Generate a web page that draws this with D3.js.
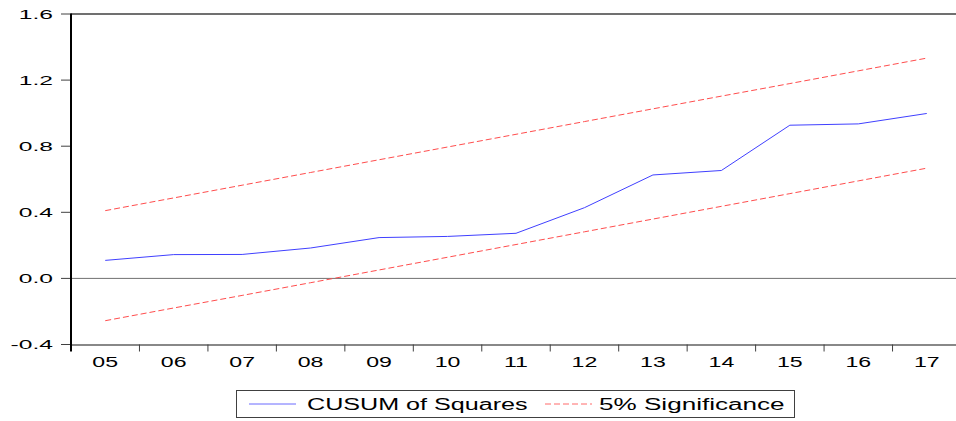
<!DOCTYPE html>
<html>
<head>
<meta charset="utf-8">
<script src="https://cdn.jsdelivr.net/npm/d3@7/dist/d3.min.js"></script>
<style>
  body { margin: 0; background: #fff; }
  svg { display: block; font-family: "Liberation Sans", Arial, sans-serif; }
</style>
</head>
<body>
<svg width="956" height="421"></svg>
<script>
var years = ["05", "06", "07", "08", "09", "10", "11", "12", "13", "14", "15", "16", "17"];
var cusumSq = [0.109, 0.144, 0.145, 0.184, 0.247, 0.254, 0.273, 0.428, 0.626, 0.653, 0.927, 0.935, 0.998];
var upper = [0.410, 0.487, 0.564, 0.641, 0.718, 0.795, 0.872, 0.949, 1.026, 1.103, 1.179, 1.256, 1.333];
var lower = [-0.256, -0.179, -0.103, -0.026, 0.051, 0.128, 0.205, 0.282, 0.359, 0.436, 0.513, 0.590, 0.667];
var yTicks = [-0.4, 0.0, 0.4, 0.8, 1.2, 1.6];

var svg = d3.select("svg");

var pLeft = 71, pRight = 961, pTop = 14, pBottom = 344.5;

var x = d3.scaleBand().domain(years).range([pLeft, pRight]);
var y = d3.scaleLinear().domain([-0.4, 1.6]).range([pBottom, pTop]);

// stretch text horizontally like the original
function stretch(sel, k) {
  sel.each(function() {
    var w = this.getComputedTextLength();
    d3.select(this).attr("textLength", w * k).attr("lengthAdjust", "spacingAndGlyphs");
  });
}

// frame
svg.append("line")
  .attr("x1", pLeft).attr("x2", 956).attr("y1", pTop).attr("y2", pTop)
  .attr("stroke", "#404040").attr("stroke-width", 1.5);
svg.append("line")
  .attr("x1", pLeft).attr("x2", 956).attr("y1", y(0)).attr("y2", y(0))
  .attr("stroke", "#707070").attr("stroke-width", 1);
svg.append("line")
  .attr("x1", pLeft).attr("x2", 956).attr("y1", pBottom + 0.5).attr("y2", pBottom + 0.5)
  .attr("stroke", "#606060").attr("stroke-width", 1.5);

// y ticks and labels
svg.selectAll(".ytick")
  .data(yTicks)
  .enter()
  .append("line")
  .attr("x1", pLeft - 10).attr("x2", pLeft)
  .attr("y1", function(d) { return y(d); })
  .attr("y2", function(d) { return y(d); })
  .attr("stroke", "#404040");

svg.selectAll(".ylab")
  .data(yTicks)
  .enter()
  .append("text")
  .attr("x", 53)
  .attr("y", function(d) { return y(d) + 4.5; })
  .attr("text-anchor", "end")
  .attr("font-size", 12)
  .attr("fill", "#000")
  .text(function(d) { return d.toFixed(1); })
  .call(stretch, 2.05);

// x ticks and labels
svg.selectAll(".xtick")
  .data(years.slice(1))
  .enter()
  .append("line")
  .attr("x1", function(d) { return x(d); })
  .attr("x2", function(d) { return x(d); })
  .attr("y1", pBottom).attr("y2", pBottom + 7)
  .attr("stroke", "#404040");

svg.selectAll(".xlab")
  .data(years)
  .enter()
  .append("text")
  .attr("x", function(d) { return x(d) + x.bandwidth() / 2; })
  .attr("y", 367)
  .attr("text-anchor", "middle")
  .attr("font-size", 14)
  .attr("fill", "#000")
  .text(function(d) { return d; })
  .call(stretch, 1.65);

// left axis
svg.append("line")
  .attr("x1", pLeft).attr("x2", pLeft).attr("y1", pTop - 0.5).attr("y2", pBottom + 7)
  .attr("stroke", "#000").attr("stroke-width", 2);

// series
var line = d3.line()
  .x(function(d, i) { return x(years[i]) + x.bandwidth() / 2; })
  .y(function(d) { return y(d); });

svg.append("path").datum(upper)
  .attr("d", line).attr("fill", "none")
  .attr("stroke", "#ff4d4d").attr("stroke-width", 1).attr("stroke-dasharray", "6,3");
svg.append("path").datum(lower)
  .attr("d", line).attr("fill", "none")
  .attr("stroke", "#ff4d4d").attr("stroke-width", 1).attr("stroke-dasharray", "6,3");
svg.append("path").datum(cusumSq)
  .attr("d", line).attr("fill", "none")
  .attr("stroke", "#4040ff").attr("stroke-width", 1);

// legend
var lg = svg.append("g");
lg.append("rect")
  .attr("x", 236.5).attr("y", 390.5).attr("width", 558).attr("height", 27)
  .attr("fill", "#fff").attr("stroke", "#404040").attr("stroke-width", 1);
lg.append("line")
  .attr("x1", 249).attr("x2", 296).attr("y1", 404).attr("y2", 404)
  .attr("stroke", "#6a6aff").attr("stroke-width", 1);
lg.append("text")
  .attr("x", 307).attr("y", 410)
  .attr("font-size", 16).attr("fill", "#000")
  .text("CUSUM of Squares")
  .call(stretch, 1.57);
lg.append("line")
  .attr("x1", 545).attr("x2", 592).attr("y1", 404).attr("y2", 404)
  .attr("stroke", "#ff6a6a").attr("stroke-width", 1).attr("stroke-dasharray", "6,3");
lg.append("text")
  .attr("x", 599).attr("y", 410)
  .attr("font-size", 16).attr("fill", "#000")
  .text("5% Significance")
  .call(stretch, 1.63);
</script>
</body>
</html>
